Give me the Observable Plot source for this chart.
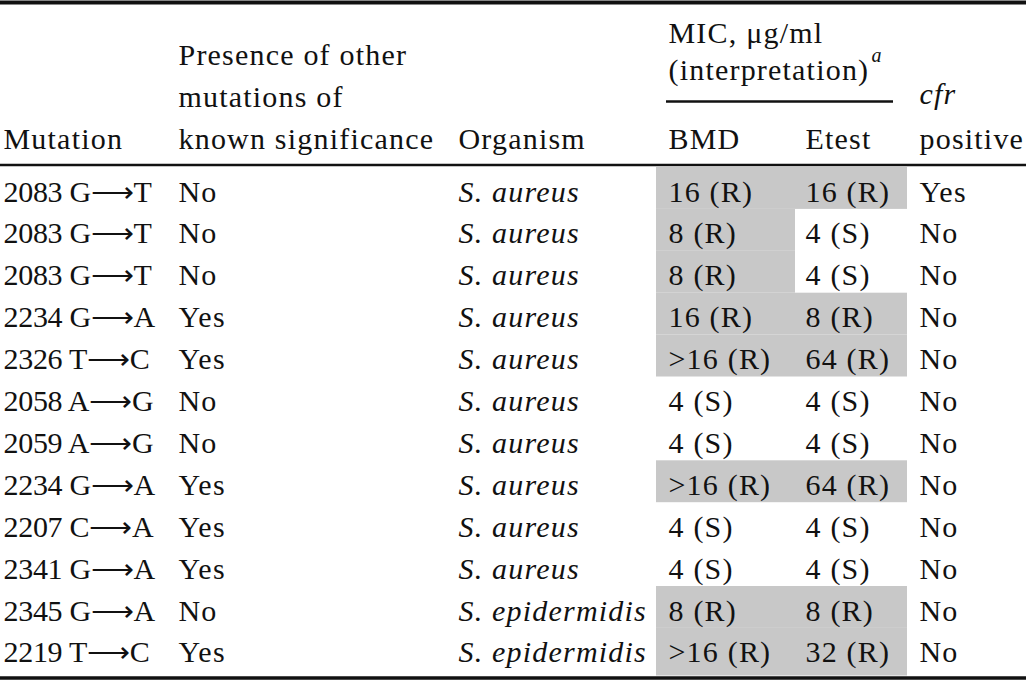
<!DOCTYPE html>
<html><head><meta charset="utf-8">
<script src="https://cdn.jsdelivr.net/npm/d3@7"></script>
<script src="https://cdn.jsdelivr.net/npm/@observablehq/plot@0.6"></script>
<style>html,body{margin:0;padding:0;background:#fff}</style>
</head><body><div id="chart"></div>
<script>
// ---- data ----
const mutations = ["2083 G⟶T","2083 G⟶T","2083 G⟶T","2234 G⟶A","2326 T⟶C","2058 A⟶G","2059 A⟶G","2234 G⟶A","2207 C⟶A","2341 G⟶A","2345 G⟶A","2219 T⟶C"];
const otherMutations = ["No","No","No","Yes","Yes","No","No","Yes","Yes","Yes","No","Yes"];
const organisms = ["S. aureus","S. aureus","S. aureus","S. aureus","S. aureus","S. aureus","S. aureus","S. aureus","S. aureus","S. aureus","S. epidermidis","S. epidermidis"];
const bmd = ["16 (R)","8 (R)","8 (R)","16 (R)",">16 (R)","4 (S)","4 (S)",">16 (R)","4 (S)","4 (S)","8 (R)",">16 (R)"];
const etest = ["16 (R)","4 (S)","4 (S)","8 (R)","64 (R)","4 (S)","4 (S)","64 (R)","4 (S)","4 (S)","8 (R)","32 (R)"];
const cfrPositive = ["Yes","No","No","No","No","No","No","No","No","No","No","No"];
const headerLeft = ["Presence of other","mutations of"];
const headerBottom = ["Mutation","known significance","Organism","BMD","Etest","positive"];
const micHeader = ["MIC, μg/ml","(interpretation)"];

// ---- layout ----
const W = 1026, H = 681;
const colX = {mutation: 3, other: 178, organism: 458, bmd: 668, etest: 805, cfr: 919};
const shadeX = {bmd: [656, 795], etest: [795, 907]};
const rowTop = 167, rowH = 41.9, baseOff = 34, tableBottom = 675.5;
const font = "'Liberation Serif', 'Times New Roman', serif";
const fs = 30;
const ink = "#111";

const rows = mutations.map((m, i) => ({
  i, mutation: m, other: otherMutations[i], organism: organisms[i],
  bmd: bmd[i], etest: etest[i], cfr: cfrPositive[i]
}));
const n = rows.length;
const baseline = d => rowTop + d.i * rowH + baseOff;

const cells = [];
rows.forEach(d => {
  if (d.bmd.includes("(R)")) cells.push({i: d.i, col: "bmd"});
  if (d.etest.includes("(R)")) cells.push({i: d.i, col: "etest"});
});

const headerBottomCols = ["mutation","other","organism","bmd","etest","cfr"];
const hb = headerBottom.map((t, k) => ({t, x: colX[headerBottomCols[k]], y: 148}));
const hl = headerLeft.map((t, k) => ({t, x: colX.other, y: 64 + k * 42}));
const hm = micHeader.map((t, k) => ({t, x: colX.bmd, y: 42 + k * 37}));

const txt = {fontFamily: font, fontSize: fs, fill: ink, textAnchor: "start", lineAnchor: "bottom"};

const chart = Plot.plot({
  width: W, height: H, margin: 0,
  x: {domain: [0, W], range: [0, W], axis: null},
  y: {domain: [0, H], range: [0, H], axis: null},
  style: {background: "#fff", letterSpacing: "1.2px"},
  marks: [
    Plot.rect(cells, {
      x1: d => shadeX[d.col][0], x2: d => shadeX[d.col][1],
      y1: d => rowTop + d.i * rowH,
      y2: d => d.i === n - 1 ? tableBottom : rowTop + (d.i + 1) * rowH,
      fill: "#c8c8c8", inset: 0
    }),
    // rules
    Plot.ruleY([2], {x1: 0, x2: W, stroke: ink, strokeWidth: 4}),
    Plot.ruleY([164.5], {x1: 0, x2: W, stroke: ink, strokeWidth: 2.5}),
    Plot.ruleY([677.5], {x1: 0, x2: W, stroke: ink, strokeWidth: 3.5}),
    Plot.ruleY([101], {x1: 666, x2: 893, stroke: ink, strokeWidth: 2.5}),
    // headers
    Plot.text(hb, {...txt, x: "x", y: "y", text: "t"}),
    Plot.text(hl, {...txt, x: "x", y: "y", text: "t"}),
    Plot.text(hm, {...txt, x: "x", y: "y", text: "t"}),
    Plot.text(["a"], {...txt, x: () => 871, y: () => 61, text: d => d, fontSize: 20, fontStyle: "italic"}),
    Plot.text(["cfr"], {...txt, x: () => colX.cfr, y: () => 103, text: d => d, fontStyle: "italic"}),
    // body
    Plot.text(rows, {...txt, x: () => colX.mutation, y: baseline, text: "mutation"}),
    Plot.text(rows, {...txt, x: () => colX.other, y: baseline, text: "other"}),
    Plot.text(rows, {...txt, x: () => colX.organism, y: baseline, text: "organism", fontStyle: "italic"}),
    Plot.text(rows, {...txt, x: () => colX.bmd, y: baseline, text: "bmd"}),
    Plot.text(rows, {...txt, x: () => colX.etest, y: baseline, text: "etest"}),
    Plot.text(rows, {...txt, x: () => colX.cfr, y: baseline, text: "cfr"})
  ]
});
d3.select(chart).selectAll("text")
  .filter(function() { return this.textContent.includes("⟶"); })
  .style("letter-spacing", "-0.3px");
document.getElementById("chart").appendChild(chart);
</script>
</body></html>
